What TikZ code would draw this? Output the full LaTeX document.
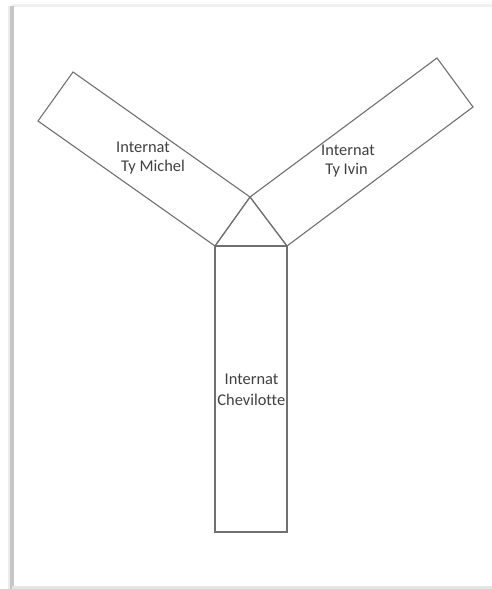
\documentclass[tikz,border=0pt]{standalone}
\usepackage{fontspec}
\setmainfont[Ligatures=NoCommon]{Carlito}
\definecolor{edge}{HTML}{707070}
\definecolor{txt}{HTML}{404040}
\tikzset{
  wing/.style={draw=edge, line width=1.1bp, line join=miter},
  lbl/.style={text=txt, inner sep=0pt, font=\fontsize{16.4bp}{20bp}\selectfont, anchor=center}
}
\begin{document}
\begin{tikzpicture}[x=1bp,y=-1bp]
\useasboundingbox (0,0) rectangle (492,589);
\fill[white] (0,0) rectangle (492,589);
% page shadow
\fill[gray!12] (12,4) rectangle (492,7);
\fill[gray!15] (8,6) rectangle (16,589);
\fill[gray!45] (10,6) rectangle (14,589);
\fill[gray!20] (12,586) rectangle (492,589);
\fill[white] (14,7) rectangle (492,586);
% corners
\coordinate (apex) at (250,197);
\coordinate (bl) at (215,246);
\coordinate (br) at (287,246);
\coordinate (m1) at (73,72);
\coordinate (m2) at (38,121);
\coordinate (i1) at (437,58);
\coordinate (i2) at (473,107);
\coordinate (c1) at (215,532);
\coordinate (c2) at (287,532);
% shapes
\draw[wing] (m1) -- (m2) -- (bl) -- (apex) -- cycle;
\draw[wing] (i1) -- (i2) -- (br) -- (apex) -- cycle;
\draw[wing] (bl) -- (c1) -- (c2) -- (br) -- cycle;
\draw[wing] (bl) -- (apex) -- (br);
% labels
\node[lbl] (tm1) at (143,147) {Internat};
\node[lbl] (tm2) at (153,167) {Ty Michel};
\node[lbl] (ti1) at (348,150) {Internat};
\node[lbl] (ti2) at (346.5,170) {Ty Ivin};
\node[lbl] (tc1) at (251.5,379) {Internat};
\node[lbl] (tc2) at (251.3,400) {Chevilotte};
\end{tikzpicture}
\end{document}
